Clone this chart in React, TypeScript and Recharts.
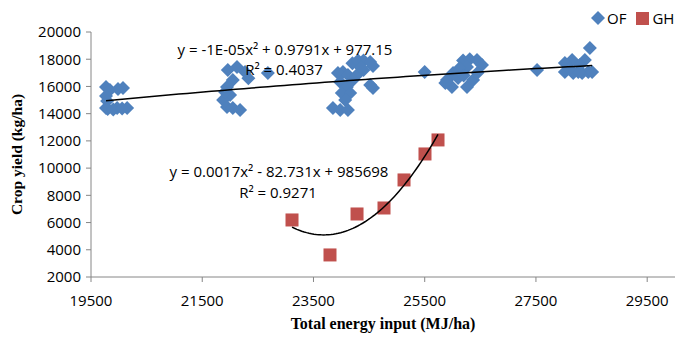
import React from "react";
import { Label, Legend, Scatter, ScatterChart, XAxis, YAxis } from "recharts";

const xTicks = [19500, 21500, 23500, 25500, 27500, 29500];
const yTicks = [2000, 4000, 6000, 8000, 10000, 12000, 14000, 16000, 18000, 20000];

// OF: open field
const ofEnergy = [
  19770, 19840, 19985, 20075, 19770, 19790, 19770, 19970, 20150, 19800, 19900, 20060,
  21960, 22125, 22270, 22330, 22050, 21945, 22000, 21875, 21945, 22050, 22180, 21910, 22680,
  24200, 24300, 24400, 24520, 24570, 24030, 23940, 24120, 24280, 24210, 23980, 24100, 24010, 24160, 24070, 23850, 23980,
  24120, 24570, 24520, 24400, 24350,
  25500,
  26190, 26310, 26440, 26530, 26260, 26130, 26010, 25900, 25990, 26260, 26370, 25870, 26100, 26200, 26450,
  27520,
  28470, 28150, 28020, 28020, 28170, 28330, 28440, 28510, 28380, 28290, 28260, 28100,
];
const ofYield = [
  15960, 15740, 15810, 15890, 15300, 14930, 14420, 14420, 14420, 14350, 14300, 14380,
  17210, 17430, 17060, 16600, 16470, 15960, 15370, 15000, 14490, 14420, 14270, 15590, 16990,
  17700, 17900, 17900, 17800, 17500, 17060, 16990, 16840, 16840, 16470, 16330, 15960, 15520, 15520, 15000, 14420, 14270,
  14270, 15890, 16110, 17200, 17400,
  17060,
  17900, 18000, 17940, 17580, 17430, 17360, 16990, 16470, 15960, 15960, 16470, 16250, 16620, 16800, 17000,
  17210,
  18820, 17940, 17720, 17060, 16990, 16990, 17060, 17060, 17940, 17580, 17060, 17300,
];

// GH: greenhouse
const ghEnergy = [23114, 23797, 24283, 24768, 25128, 25505, 25739];
const ghYield = [6190, 3620, 6630, 7070, 9130, 11040, 12070];

const ofEquation = "y = -1E-05x² + 0.9791x + 977.15";
const ofR2 = "R² = 0.4037";
const ghEquation = "y = 0.0017x² - 82.731x + 985698";
const ghR2 = "R² = 0.9271";

const OF_COLOR = "#4F81BD";
const GH_COLOR = "#C0504D";
const AXIS_COLOR = "#868686";
const SANS = "'Open Sans', sans-serif";
const SERIF = "'Liberation Serif', 'Times New Roman', serif";

const toPoints = (xs: number[], ys: number[]) => xs.map((x, i) => ({ x, y: ys[i] }));

// least-squares quadratic, like an Excel polynomial trendline
function quadTrend(xs: number[], ys: number[], steps = 60) {
  const n = xs.length;
  const mx = xs.reduce((a, b) => a + b, 0) / n;
  const u = xs.map((x) => (x - mx) / 1000);
  let s1 = 0, s2 = 0, s3 = 0, s4 = 0, t0 = 0, t1 = 0, t2 = 0;
  u.forEach((v, i) => {
    s1 += v; s2 += v * v; s3 += v * v * v; s4 += v * v * v * v;
    t0 += ys[i]; t1 += v * ys[i]; t2 += v * v * ys[i];
  });
  const det3 = (m: number[][]) =>
    m[0][0] * (m[1][1] * m[2][2] - m[1][2] * m[2][1]) -
    m[0][1] * (m[1][0] * m[2][2] - m[1][2] * m[2][0]) +
    m[0][2] * (m[1][0] * m[2][1] - m[1][1] * m[2][0]);
  const A = [[n, s1, s2], [s1, s2, s3], [s2, s3, s4]];
  const B = [t0, t1, t2];
  const D = det3(A);
  const coef = [0, 1, 2].map((k) => det3(A.map((row, r) => row.map((v, c) => (c === k ? B[r] : v)))) / D);
  const lo = Math.min(...xs);
  const hi = Math.max(...xs);
  return Array.from({ length: steps + 1 }, (_, i) => {
    const x = lo + ((hi - lo) * i) / steps;
    const v = (x - mx) / 1000;
    return { x, y: coef[0] + coef[1] * v + coef[2] * v * v };
  });
}

const ofPoints = toPoints(ofEnergy, ofYield);
const ghPoints = toPoints(ghEnergy, ghYield);
const ofTrend = quadTrend(ofEnergy, ofYield);
const ghTrend = quadTrend(ghEnergy, ghYield);

const Diamond = (props: any) => {
  const { cx, cy } = props;
  const h = 7;
  return <polygon points={`${cx},${cy - h} ${cx + h},${cy} ${cx},${cy + h} ${cx - h},${cy}`} fill={OF_COLOR} />;
};

const Square = (props: any) => {
  const { cx, cy } = props;
  return <rect x={cx - 6.5} y={cy - 6.5} width={13} height={13} fill={GH_COLOR} />;
};

const NoMarker = () => null;

const LegendContent = () => (
  <div style={{ display: "flex", alignItems: "center", fontFamily: SANS, fontSize: 15, lineHeight: "20px", color: "#000" }}>
    <svg width={14} height={14}>
      <polygon points="7,0 14,7 7,14 0,7" fill={OF_COLOR} />
    </svg>
    <span style={{ marginLeft: 2 }}>OF</span>
    <svg width={13} height={13} style={{ marginLeft: 10 }}>
      <rect x={0} y={0} width={13} height={13} fill={GH_COLOR} />
    </svg>
    <span style={{ marginLeft: 3 }}>GH</span>
  </div>
);

const YTitle = ({ viewBox }: any) => {
  const x = viewBox.x + 5.5;
  const y = viewBox.y + viewBox.height / 2;
  return (
    <text x={x} y={y} transform={`rotate(-90, ${x}, ${y})`} textAnchor="middle" fontFamily={SERIF} fontWeight="bold" fontSize={15.5} fill="#000">
      Crop yield (kg/ha)
    </text>
  );
};

export default function App() {
  const textStyle = { fontFamily: SANS, fontSize: 15, fill: "#000" };
  return (
    <div style={{ position: "relative", width: 682, height: 330 }}>
      <ScatterChart width={682} height={330} margin={{ top: 24, right: 15, bottom: 9, left: 8 }}>
        <XAxis
          type="number"
          dataKey="x"
          domain={[19500, 30000]}
          ticks={xTicks}
          allowDataOverflow
          height={52}
          stroke={AXIS_COLOR}
          tickSize={5}
          tickMargin={13}
          tick={{ fontFamily: SANS, fontSize: 15, fill: "#000" }}
        >
          <Label
            value="Total energy input (MJ/ha)"
            position="insideBottom"
            offset={0}
            style={{ fontFamily: SERIF, fontWeight: "bold", fontSize: 16, fill: "#000" }}
          />
        </XAxis>
        <YAxis
          type="number"
          dataKey="y"
          domain={[2000, 20000]}
          ticks={yTicks}
          allowDataOverflow
          width={75}
          stroke={AXIS_COLOR}
          tickSize={5}
          tickMargin={5}
          tick={{ fontFamily: SANS, fontSize: 15, fill: "#000" }}
        >
          <Label content={<YTitle />} />
        </YAxis>
        <Legend
          verticalAlign="middle"
          layout="horizontal"
          content={<LegendContent />}
          wrapperStyle={{ top: 0, left: 583, width: 100, height: 20 }}
        />
        <Scatter name="OF" data={ofPoints} shape={<Diamond />} isAnimationActive={false} />
        <Scatter name="GH" data={ghPoints} shape={<Square />} isAnimationActive={false} />
        <Scatter
          name="OF trend"
          data={ofTrend}
          line={{ stroke: "#000", strokeWidth: 1.5 }}
          lineType="joint"
          shape={<NoMarker />}
          legendType="none"
          isAnimationActive={false}
        />
        <Scatter
          name="GH trend"
          data={ghTrend}
          line={{ stroke: "#000", strokeWidth: 1.5 }}
          lineType="joint"
          shape={<NoMarker />}
          legendType="none"
          isAnimationActive={false}
        />
      </ScatterChart>
      <svg width={682} height={330} style={{ position: "absolute", left: 0, top: 0, pointerEvents: "none" }}>
        <text x={277} y={47} textAnchor="middle" {...textStyle}>{ofEquation}</text>
        <text x={276} y={67} textAnchor="middle" {...textStyle}>{ofR2}</text>
        <text x={271} y={169} textAnchor="middle" {...textStyle}>{ghEquation}</text>
        <text x={270} y={190} textAnchor="middle" {...textStyle}>{ghR2}</text>
      </svg>
    </div>
  );
}
